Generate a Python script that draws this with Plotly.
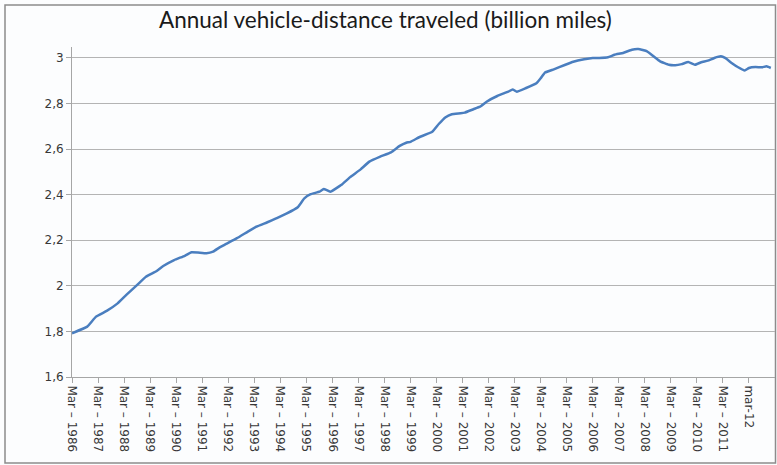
import plotly.graph_objects as go

# ── Data ──────────────────────────────────────────────────────
months = ["1986-03", "1986-10", "1987-02", "1987-07", "1987-12", "1988-04", "1988-09",
          "1989-01", "1989-06", "1989-09", "1990-02", "1990-07", "1990-10", "1991-01",
          "1991-05", "1991-08", "1991-11", "1992-02", "1992-07", "1992-12", "1993-04",
          "1993-09", "1994-01", "1994-06", "1994-11", "1995-02", "1995-05", "1995-09",
          "1995-11", "1996-02", "1996-07", "1996-11", "1997-04", "1997-08", "1998-01",
          "1998-06", "1998-10", "1999-01", "1999-03", "1999-07", "2000-01", "2000-04",
          "2000-07", "2000-10", "2001-02", "2001-04", "2001-08", "2001-11", "2002-02",
          "2002-07", "2002-12", "2003-02", "2003-04", "2003-08", "2004-01", "2004-03",
          "2004-05", "2004-09", "2005-02", "2005-06", "2005-11", "2006-03", "2006-06",
          "2006-10", "2007-01", "2007-05", "2007-09", "2007-12", "2008-04", "2008-07",
          "2008-10", "2009-02", "2009-05", "2009-08", "2009-11", "2010-02", "2010-05",
          "2010-08", "2010-11", "2011-02", "2011-04", "2011-07", "2011-10", "2012-01",
          "2012-03", "2012-06", "2012-09", "2012-11", "2013-01"]
vmt = [1.792, 1.821, 1.865, 1.890, 1.923, 1.960, 2.004,
       2.040, 2.065, 2.087, 2.113, 2.132, 2.147, 2.146,
       2.143, 2.150, 2.169, 2.184, 2.209, 2.238, 2.260,
       2.279, 2.296, 2.318, 2.345, 2.384, 2.402, 2.413,
       2.425, 2.413, 2.442, 2.476, 2.511, 2.545, 2.567,
       2.586, 2.614, 2.628, 2.632, 2.652, 2.676, 2.710,
       2.739, 2.753, 2.757, 2.760, 2.775, 2.786, 2.808,
       2.833, 2.852, 2.862, 2.852, 2.867, 2.889, 2.911,
       2.936, 2.950, 2.969, 2.983, 2.994, 3.000, 3.000,
       3.003, 3.014, 3.022, 3.036, 3.039, 3.029, 3.007,
       2.985, 2.970, 2.968, 2.973, 2.982, 2.970, 2.981,
       2.988, 3.000, 3.007, 3.000, 2.978, 2.959, 2.945,
       2.956, 2.960, 2.959, 2.963, 2.956]

tick_dates = [f"{y}-03-01" for y in range(1986, 2013)]
tick_text = [f"Mar – {y}" for y in range(1986, 2012)] + ["mar-12"]

# ── Styling ───────────────────────────────────────────────────
BLUE = "#4a7ebf"
GRID = "#b4b4b4"
AXIS = "#a6a6a6"
BG = "#fcfdfe"
TICKFONT = dict(family="DejaVu Sans", size=12, color="#383838")

# plot area in pixels: left 72, right 775, top 47, bottom 377
L, R, T, B = 72, 775, 47, 377
W, H = 777, 465

def px_x(x):
    return (x - L) / (R - L)

def px_y(y):
    return (B - y) / (B - T)

fig = go.Figure(go.Scatter(
    x=[m + "-01" for m in months], y=vmt, mode="lines",
    line=dict(color=BLUE, width=2.5, shape="spline", smoothing=0.3),
    hoverinfo="x+y"))

fig.update_xaxes(
    type="date", range=["1986-03-01", "2013-03-01"],
    tickvals=tick_dates, ticktext=tick_text, tickangle=90,
    ticks="outside", ticklen=5, tickcolor=AXIS,
    showline=True, linecolor=AXIS, linewidth=1,
    showgrid=False, tickfont=TICKFONT, automargin=False)
fig.update_yaxes(
    range=[1.6, 3.048], tickvals=[1.6, 1.8, 2.0, 2.2, 2.4, 2.6, 2.8, 3.0],
    ticks="outside", ticklen=5, tickcolor=AXIS,
    showline=True, linecolor=AXIS, linewidth=1,
    gridcolor=GRID, gridwidth=1, zeroline=False,
    tickfont=TICKFONT, automargin=False)

# outer frame around the whole chart
fig.add_shape(type="rect", xref="paper", yref="paper",
              x0=px_x(5), x1=px_x(775.5), y0=px_y(463), y1=px_y(5),
              line=dict(color="#8c8c8c", width=1.5), layer="below")

fig.update_layout(
    width=W, height=H,
    paper_bgcolor=BG, plot_bgcolor=BG,
    margin=dict(l=L, r=W - R, t=T, b=H - B),
    separators=", ",
    showlegend=False,
    title=dict(text="Annual vehicle-distance traveled (billion miles)",
               x=0.496, xanchor="center", y=1 - 20 / H, yanchor="middle",
               font=dict(family="Lato", size=22.5, color="#1a1a1a")),
)

fig.write_html("out.html", config={"displayModeBar": False},
               post_script="document.body.style.margin='0';document.body.style.overflow='hidden';")
